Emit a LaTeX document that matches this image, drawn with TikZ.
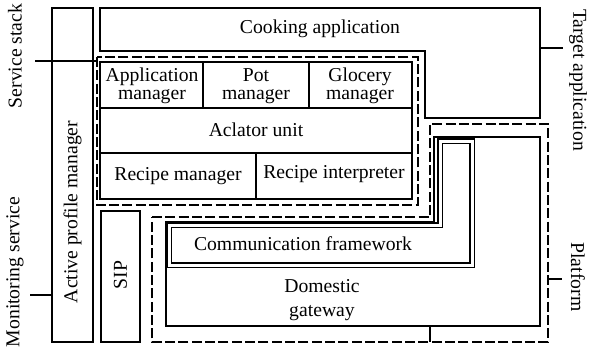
\documentclass[tikz,border=0pt]{standalone}
\usepackage{fontspec}
\setmainfont{Liberation Serif}
\usetikzlibrary{positioning}

\begin{document}
\begin{tikzpicture}[
    x=0.6pt, y=-0.6pt,
    box/.style={draw, line width=1.2pt},
    zone/.style={draw, line width=0.9pt, dash pattern=on 6pt off 2pt},
    bevel/.style={draw, line width=0.8pt, double=white, double distance=1.8pt},
    txt/.style={font=\fontsize{11.8}{11}\selectfont, align=center, inner sep=0pt},
    up/.style={txt, rotate=90},
    down/.style={txt, rotate=-90},
    leader/.style={draw, line width=1.2pt}
]
\useasboundingbox (0,0) rectangle (590,350);

% Active profile manager
\draw[box] (52,8) rectangle (93,342);
\node[up] (apm) at (72.5,212) {Active profile manager};

% Cooking application
\draw[box] (100,8) -- (540,8) -- (540,118) -- (425,118) -- (425,51) -- (100,51) -- cycle;
\node[txt] (cook) at (320,29) {Cooking application};

% Service stack
\draw[zone] (97,57) rectangle (418,205);
\draw[box] (100,62) rectangle (412,199);
\draw[box] (100,108) -- (412,108) (100,153) -- (412,153);
\draw[box] (203,62) -- (203,108) (309,62) -- (309,108) (256,153) -- (256,199);
\node[txt] (appmgr) at (152,86) {Application\\manager};
\node[txt] (potmgr) at (256,86) {Pot\\manager};
\node[txt] (glomgr) at (360,86) {Glocery\\manager};
\node[txt] (aclator) at (256,130) {Aclator unit};
\node[txt] (recmgr) at (178,176) {Recipe manager};
\node[txt] (recint) at (334,174) {Recipe interpreter};

% Platform
\draw[zone] (152,217) -- (430,217) -- (430,124) -- (548,124) -- (548,342) -- (152,342) -- cycle;
\draw[box] (166,222) -- (434,222) -- (434,137) -- (540,137) -- (540,326) -- (166,326) -- cycle;
\draw[bevel, fill=white] (169,225) -- (440,225) -- (440,141) -- (472,141) -- (472,265) -- (169,265) -- cycle;
\node[txt] (comm) at (303,244) {Communication framework};
\node[txt, font=\fontsize{11.8}{14}\selectfont] (gw) at (322,300) {Domestic\\gateway};
\coordinate (gwfoot) at (430,326);
\coordinate (pfbase) at (430,342);
\draw[box] (gwfoot) -- (pfbase);

% SIP
\draw[box] (101,211) rectangle (140,342);
\node[up] (sip) at (120.5,275) {SIP};

% Labels
\node[up] (sstack) at (15,56) {Service stack};
\node[up] (monit) at (15,272) {Monitoring service};
\node[down] (target) at (578,80) {Target application};
\node[down] (platform) at (578,277) {Platform};

\coordinate (ssA) at (35,61);
\coordinate (ssB) at (97,61);
\coordinate (msA) at (30,295);
\coordinate (msB) at (52,295);
\coordinate (taA) at (540,48);
\coordinate (taB) at (563,48);
\coordinate (pfA) at (548,279);
\coordinate (pfB) at (562,279);
\draw[leader] (ssA) -- (ssB);
\draw[leader] (msA) -- (msB);
\draw[leader] (taA) -- (taB);
\draw[leader] (pfA) -- (pfB);

\end{tikzpicture}
\end{document}
